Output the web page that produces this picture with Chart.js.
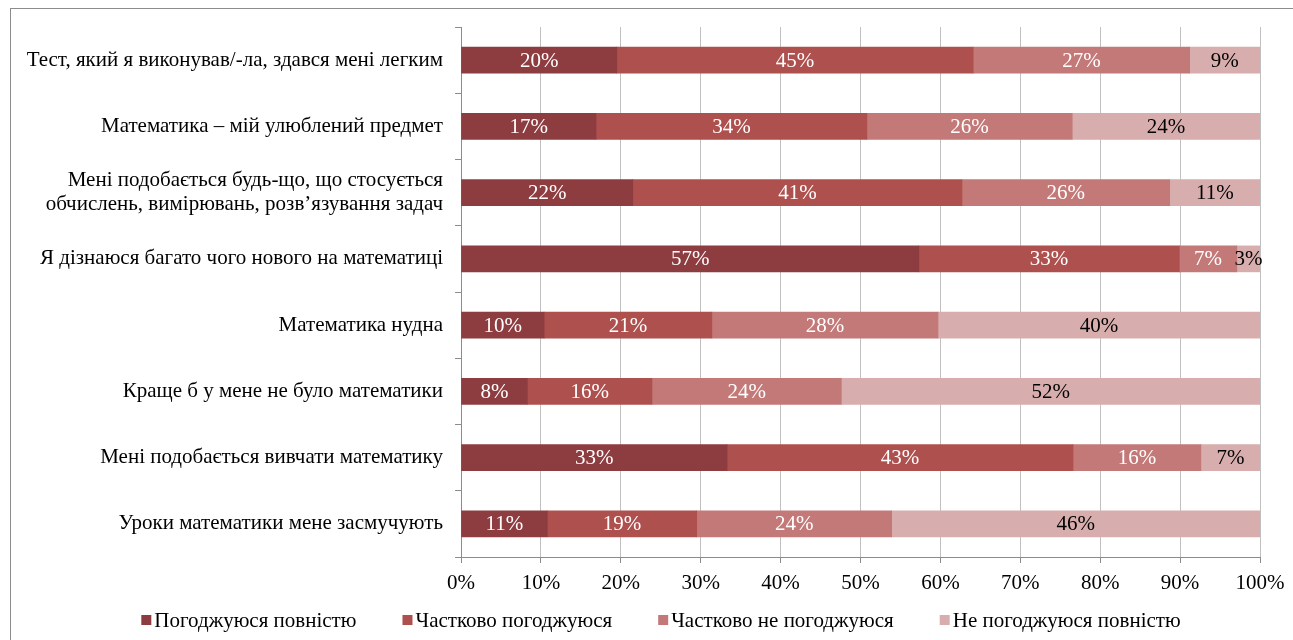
<!DOCTYPE html>
<html>
<head>
<meta charset="utf-8">
<script src="https://cdn.jsdelivr.net/npm/chart.js@4.4.1/dist/chart.umd.min.js"></script>
<style>
  html, body { margin:0; padding:0; background:#fff; overflow:hidden; }
  #frame { position:absolute; left:10px; top:8px; width:1400px; height:700px;
           border-left:1px solid #8c8c8c; border-top:1px solid #8c8c8c; }
  #wrap { position:absolute; left:0; top:0; width:1293px; height:640px; }
</style>
</head>
<body>
<div id="frame"></div>
<div id="wrap"><canvas id="surveyChart"></canvas></div>
<script>
const statements = [
  "Тест, який я виконував/-ла, здався мені легким",
  "Математика – мій улюблений предмет",
  ["Мені подобається будь-що, що стосується", "обчислень, вимірювань, розв’язування задач"],
  "Я дізнаюся багато чого нового на математиці",
  "Математика нудна",
  "Краще б у мене не було математики",
  "Мені подобається вивчати математику",
  "Уроки математики мене засмучують"
];

const seriesNames = ["Погоджуюся повністю", "Частково погоджуюся", "Частково не погоджуюся", "Не погоджуюся повністю"];

// percentages per statement
const fullyAgree     = [19.5, 16.9, 21.5, 57.3, 10.4,  8.3, 33.3, 10.8];
const partlyAgree    = [44.6, 33.9, 41.2, 32.6, 21.0, 15.6, 43.3, 18.7];
const partlyDisagree = [27.1, 25.7, 26.0,  7.2, 28.3, 23.7, 16.0, 24.4];
const fullyDisagree  = [ 8.8, 23.5, 11.3,  2.9, 40.3, 52.4,  7.4, 46.1];

const xTicks = [0, 10, 20, 30, 40, 50, 60, 70, 80, 90, 100];

const colors = ["#8d3c40", "#ae504e", "#c37978", "#d7aead"];
const labelColors = ["#ffffff", "#ffffff", "#ffffff", "#000000"];
const serif = '"Liberation Serif", "Times New Roman", serif';
const fontSize = 21;

const barLabels = {
  id: 'barLabels',
  afterDatasetsDraw(chart) {
    const ctx = chart.ctx;
    ctx.save();
    ctx.font = fontSize + 'px ' + serif;
    ctx.textAlign = 'center';
    ctx.textBaseline = 'middle';
    chart.data.datasets.forEach((ds, i) => {
      chart.getDatasetMeta(i).data.forEach((bar, j) => {
        ctx.fillStyle = labelColors[i];
        ctx.fillText(Math.round(ds.data[j]) + '%', (bar.x + bar.base) / 2, bar.y + 1);
      });
    });
    ctx.restore();
  }
};

// legend drawn by hand so the spacing matches
const bottomLegend = {
  id: 'bottomLegend',
  afterDraw(chart) {
    const ctx = chart.ctx;
    ctx.save();
    ctx.font = fontSize + 'px ' + serif;
    ctx.textBaseline = 'middle';
    const box = 10, gapText = 3, gapItem = 46;
    const widths = seriesNames.map(n => box + gapText + ctx.measureText(n).width);
    const total = widths.reduce((s, w) => s + w, 0) + gapItem * (widths.length - 1);
    let x = 661 - total / 2;
    const y = 620;
    seriesNames.forEach((n, i) => {
      ctx.fillStyle = colors[i];
      ctx.fillRect(x, y - box / 2, box, box);
      ctx.fillStyle = '#000';
      ctx.fillText(n, x + box + gapText, y + 1);
      x += widths[i] + gapItem;
    });
    ctx.restore();
  }
};

new Chart(document.getElementById("surveyChart"), {
  type: 'bar',
  data: {
    labels: statements,
    datasets: [
      { label: seriesNames[0], data: fullyAgree,     backgroundColor: colors[0] },
      { label: seriesNames[1], data: partlyAgree,    backgroundColor: colors[1] },
      { label: seriesNames[2], data: partlyDisagree, backgroundColor: colors[2] },
      { label: seriesNames[3], data: fullyDisagree,  backgroundColor: colors[3] }
    ]
  },
  options: {
    indexAxis: 'y',
    responsive: true,
    maintainAspectRatio: false,
    animation: false,
    layout: { padding: { top: 27, right: 33, bottom: 45, left: 0 } },
    datasets: { bar: { barThickness: 26 } },
    plugins: {
      legend: { display: false },
      tooltip: { enabled: false }
    },
    scales: {
      x: {
        stacked: true,
        min: 0, max: 100,
        afterBuildTicks: s => { s.ticks = xTicks.map(v => ({ value: v })); },
        afterFit: s => { s.height = 38; },
        grid: { color: '#c0c0c0', tickColor: '#8c8c8c', tickLength: 6 },
        border: { color: '#8c8c8c' },
        ticks: {
          color: '#000', padding: 8,
          font: { family: serif, size: fontSize },
          callback: v => v + '%'
        }
      },
      y: {
        stacked: true,
        afterFit: s => { s.width = 461; },
        grid: { drawOnChartArea: false, offset: true, color: '#8c8c8c', tickLength: 6 },
        border: { color: '#8c8c8c' },
        ticks: {
          color: '#000', padding: 12,
          font: { family: serif, size: fontSize, lineHeight: 1.15 }
        }
      }
    }
  },
  plugins: [barLabels, bottomLegend]
});
</script>
</body>
</html>
